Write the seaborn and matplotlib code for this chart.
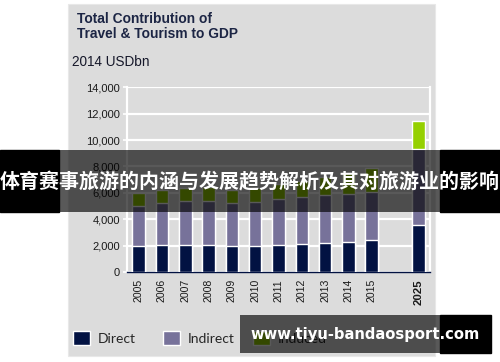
import matplotlib
matplotlib.use("Agg")
import matplotlib.pyplot as plt
import seaborn as sns
import pandas as pd
from matplotlib.patches import Rectangle, Patch
from matplotlib.ticker import FuncFormatter

# %% data (USDbn)
years = ["2005", "2006", "2007", "2008", "2009", "2010",
         "2011", "2012", "2013", "2014", "2015", "2025"]
direct = [1950, 2020, 2050, 2020, 1950, 2000, 2070, 2120, 2200, 2280, 2400, 3550]
indirect = [3050, 3180, 3320, 3380, 3250, 3300, 3430, 3580, 3600, 3670, 3650, 5780]
induced = [1000, 1000, 980, 1050, 1000, 1100, 1150, 1200, 1400, 1650, 1830, 2120]
legend_labels = ["Direct", "Indirect", "Induced"]

NAVY = "#021242"
LAV = "#77729a"
GREEN = "#95d000"
PANEL = "#dcdcdc"

sns.set_style("white")
plt.rcParams["font.family"] = ["Liberation Sans", "DejaVu Sans"]

df = pd.DataFrame({"year": years, "direct": direct,
                   "indirect": indirect, "induced": induced})
df["mid"] = df["direct"] + df["indirect"]
df["total"] = df["mid"] + df["induced"]
# empty slot between 2015 and 2025
order = years[:-1] + [" "] + years[-1:]

W, H = 500, 362
fig = plt.figure(figsize=(W / 100, H / 100), dpi=100)

# grey panel behind the chart
fig.patches.append(Rectangle((68 / W, 1 - 356 / H), 367 / W, 352 / H,
                             transform=fig.transFigure, facecolor=PANEL,
                             edgecolor="#e8e8e8", lw=0.8, zorder=-5))

ax = fig.add_axes([127 / W, 1 - 272 / H, 303 / W, (272 - 87.3) / H])
ax.set_facecolor("none")

# stacked bars: draw the cumulative tops, then cover them
for col, c in [("total", GREEN), ("mid", LAV), ("direct", NAVY)]:
    sns.barplot(data=df, x="year", y=col, order=order, color=c, width=0.54,
                saturation=1, ax=ax, zorder=3)

ax.set_xlim(-0.5, len(order) - 0.5)
ax.set_ylim(0, 14000)
ax.set_yticks(range(0, 14001, 2000))
ax.yaxis.set_major_formatter(FuncFormatter(lambda v, p: f"{v:,.0f}"))
ax.yaxis.grid(True, color="white", lw=1.6)
ax.set_axisbelow(True)
ax.set_xlabel("")
ax.set_ylabel("")

ax.spines["top"].set_visible(False)
for s in ["left", "right"]:
    ax.spines[s].set_color("white")
    ax.spines[s].set_linewidth(1.6)
ax.spines["bottom"].set_color(NAVY)
ax.spines["bottom"].set_linewidth(1.0)

ax.tick_params(axis="y", length=3, width=1.2, color="white",
               labelsize=8, labelcolor="#1a1a1a", pad=2, left=True)
ax.tick_params(axis="x", length=0, labelsize=7.6, labelcolor="#1a1a1a", pad=5)
for lab in ax.get_xticklabels():
    lab.set_rotation(90)
    if lab.get_text() == "2025":
        lab.set_fontweight("bold")
        lab.set_fontsize(8.2)

# title block
fig.text(77 / W, 1 - 12 / H, "Total Contribution of\nTravel & Tourism to GDP",
         fontsize=9.9, fontweight="bold", color="#1c2544", va="top",
         ha="left", linespacing=1.05)
fig.text(72 / W, 1 - 55 / H, "2014 USDbn", fontsize=9.8, color="#16182a",
         va="top", ha="left")

# legend entries sit on a fixed 90 px pitch
for i, (lab, c) in enumerate(zip(legend_labels, [NAVY, LAV, GREEN])):
    leg = fig.legend(handles=[Patch(facecolor=c)], labels=[lab],
                     loc="center left",
                     bbox_to_anchor=((73 + 90 * i) / W, 1 - 338 / H),
                     frameon=False, prop={"family": "Lato", "size": 10},
                     handlelength=1.2, handleheight=1.2, handletextpad=0.55,
                     borderpad=0, borderaxespad=0)
    leg.set_zorder(5)

# banner across the middle
fig.patches.append(Rectangle((0, 1 - 212 / H), 59 / W, 62 / H,
                             transform=fig.transFigure, color="black", zorder=10))
fig.patches.append(Rectangle((59 / W, 1 - 212 / H), 381 / W, 62 / H,
                             transform=fig.transFigure, color="black",
                             alpha=0.65, lw=0, zorder=10))
fig.patches.append(Rectangle((440 / W, 1 - 212 / H), 60 / W, 62 / H,
                             transform=fig.transFigure, color="black", zorder=10))
fig.text(0.5, 1 - 182 / H, "体育赛事旅游的内涵与发展趋势解析及其对旅游业的影响",
         ha="center", va="center", color="white", fontsize=14.4,
         fontweight="bold", family=["Noto Sans CJK SC", "DejaVu Sans"],
         zorder=11)

# watermark box
fig.patches.append(Rectangle((240 / W, 1 - 353 / H), 200 / W, 38 / H,
                             transform=fig.transFigure, color="black",
                             alpha=0.65, lw=0, zorder=10))
fig.patches.append(Rectangle((440 / W, 1 - 353 / H), 51 / W, 38 / H,
                             transform=fig.transFigure, color="black", zorder=10))
fig.text(365 / W, 1 - 335 / H, "www.tiyu-bandaosport.com", ha="center",
         va="center", color="white", fontsize=10.6, fontweight="bold",
         family="DejaVu Sans", zorder=11)

fig.savefig("out.png", dpi=100)
